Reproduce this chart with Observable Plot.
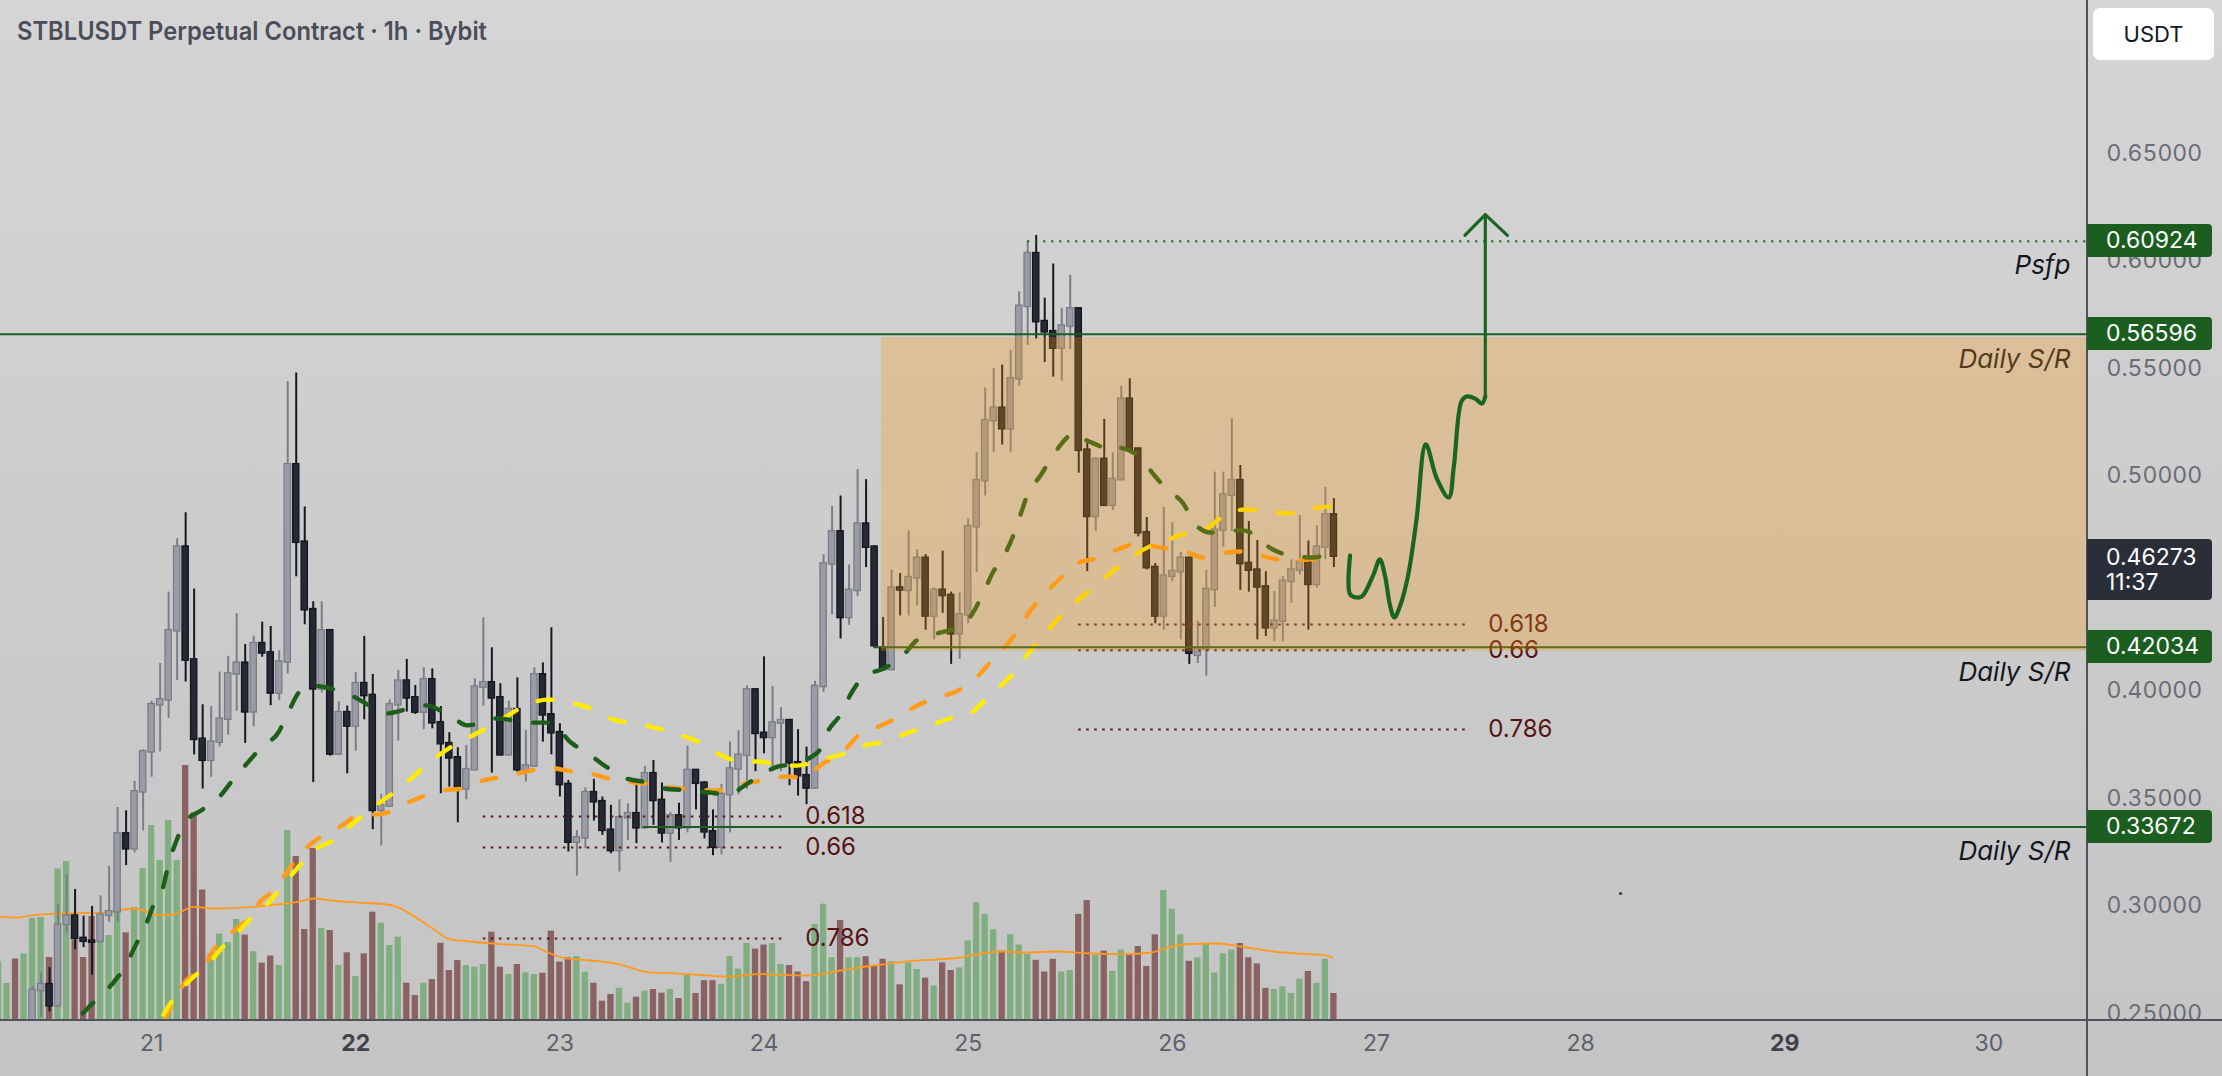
<!DOCTYPE html>
<html><head><meta charset="utf-8">
<script src="https://cdn.jsdelivr.net/npm/d3@7"></script>
<script src="https://cdn.jsdelivr.net/npm/@observablehq/plot@0.6"></script>
<style>
html,body{margin:0;padding:0;background:#c8c8c8;}
#wrap{position:relative;width:2222px;height:1076px;overflow:hidden;background:linear-gradient(180deg,#d5d5d5 0%,#c4c4c4 100%);font-family:Inter,"Noto Sans",sans-serif;}
.layer{position:absolute;left:0;top:0;}
.lbl{position:absolute;left:2087px;width:125px;color:#fff;font-size:23px;box-sizing:border-box;padding-left:19px;border-radius:0 4px 4px 0;display:flex;flex-direction:column;justify-content:center;line-height:25px;}
#title{position:absolute;left:17px;top:19px;font-size:25px;line-height:25px;font-weight:600;color:#4b4e5a;white-space:nowrap;transform-origin:0 0;display:inline-block;}
#usdt{position:absolute;left:2093px;top:8px;width:121px;height:52px;background:#fff;border-radius:7px;color:#131722;font-size:22px;display:flex;align-items:center;justify-content:center;}
#vsep{position:absolute;left:2086px;top:0;width:2px;height:1076px;background:#50535e;}
#hsep{position:absolute;left:0;top:1019px;width:2222px;height:2px;background:#50535e;}
</style>
</head><body>
<div id="wrap">
  <div id="vol" class="layer"></div>
  <div id="price" class="layer"></div>
  <div id="vsep"></div><div id="hsep"></div>
</div>
<script>
// ---------- DATA (hourly candles, first candle = hour 6 of the 20th) ----------
const startHour = 6;
const opens = [
0.236,0.241,0.244,0.238,0.240,0.2607,0.2634,0.2536,0.2914,0.2953,
0.2849,0.2836,0.2836,0.2957,0.2973,0.3335,0.3266,0.3531,0.3717,0.3936,
0.3959,0.4280,0.4669,0.4144,0.3775,0.3678,0.3762,0.3869,0.4079,0.4129,
0.3903,0.4220,0.4177,0.3991,0.4135,0.5052,0.4692,0.4378,0.4010,0.4280,
0.3707,0.3899,0.3837,0.4034,0.3979,0.3445,0.3465,0.3936,0.4046,0.3968,
0.3902,0.4052,0.3852,0.3755,0.3689,0.3545,0.3634,0.4018,0.4038,0.3968,
0.3703,0.3913,0.3634,0.3651,0.4075,0.3889,0.3806,0.3565,0.3297,0.3317,
0.3527,0.3485,0.3352,0.3258,0.3410,0.3429,0.3364,0.3615,0.3491,0.3340,
0.3419,0.3364,0.3630,0.3571,0.3345,0.3274,0.3518,0.3637,0.3701,0.4005,
0.3803,0.3784,0.3851,0.3862,0.3666,0.3606,0.3549,0.4021,0.4591,0.4740,
0.4342,0.4468,0.4776,0.4669,0.4199,0.4100,0.4479,0.4468,0.4527,0.4617,
0.4349,0.4468,0.4444,0.4266,0.4354,0.4764,0.4978,0.5258,0.5315,0.5220,
0.5452,0.5789,0.6034,0.5718,0.5671,0.5595,0.5697,0.5777,0.5120,0.4812,
0.5077,0.4864,0.4983,0.5357,0.5125,0.4736,0.4574,0.4349,0.4534,0.4555,
0.4617,0.4166,0.4195,0.4472,0.4748,0.4911,0.4978,0.4593,0.4562,0.4484,
0.4294,0.4325,0.4510,0.4562,0.4598,0.4496,0.4669,0.4819];
const highs = [
0.243,0.245,0.246,0.244,0.2627,0.2689,0.2713,0.3008,0.3145,0.3077,
0.2953,0.2998,0.3047,0.3184,0.3458,0.3443,0.3580,0.3727,0.3952,0.4128,
0.4460,0.4708,0.4829,0.4474,0.3936,0.3928,0.4088,0.4161,0.4360,0.4216,
0.4255,0.4320,0.4300,0.4187,0.5440,0.5479,0.4856,0.4415,0.4415,0.4285,
0.3950,0.3930,0.4085,0.4254,0.4077,0.3519,0.3959,0.4096,0.4147,0.4026,
0.4108,0.4103,0.3928,0.3806,0.3736,0.3747,0.4057,0.4340,0.4201,0.4034,
0.3953,0.4061,0.3817,0.4108,0.4131,0.4294,0.3848,0.3584,0.3351,0.3550,
0.3589,0.3507,0.3468,0.3494,0.3476,0.3561,0.3649,0.3677,0.3572,0.3435,
0.3478,0.3744,0.3632,0.3578,0.3447,0.3566,0.3763,0.3815,0.4024,0.4008,
0.4159,0.4021,0.3922,0.3867,0.3820,0.3739,0.4045,0.4634,0.4859,0.4907,
0.4586,0.5030,0.4983,0.4676,0.4342,0.4562,0.4546,0.4745,0.4657,0.4634,
0.4479,0.4650,0.4460,0.4456,0.4800,0.5108,0.5410,0.5500,0.5516,0.5583,
0.5856,0.6092,0.6119,0.5827,0.5986,0.5780,0.5934,0.5780,0.5151,0.5085,
0.5263,0.5108,0.5417,0.5452,0.5128,0.4807,0.4593,0.4854,0.4783,0.4645,
0.4622,0.4325,0.4562,0.5018,0.5018,0.5267,0.5049,0.4788,0.4700,0.4555,
0.4463,0.4532,0.4610,0.4816,0.4698,0.4769,0.4947,0.4895];
const lows = [
0.232,0.238,0.236,0.233,0.238,0.2483,0.2507,0.2530,0.2875,0.2797,
0.2806,0.2679,0.2826,0.2924,0.2924,0.3188,0.3247,0.3349,0.3599,0.3717,
0.3873,0.4048,0.4042,0.3703,0.3544,0.3599,0.3740,0.3795,0.3906,0.3756,
0.3834,0.4157,0.3932,0.3955,0.4079,0.4531,0.4308,0.3574,0.3991,0.3697,
0.3700,0.3615,0.3720,0.3866,0.3355,0.3279,0.3460,0.3767,0.3902,0.3891,
0.3820,0.3824,0.3522,0.3553,0.3387,0.3494,0.3630,0.3930,0.3618,0.3700,
0.3698,0.3623,0.3576,0.3645,0.3762,0.3703,0.3507,0.3251,0.3139,0.3266,
0.3395,0.3328,0.3243,0.3158,0.3305,0.3290,0.3360,0.3375,0.3293,0.3203,
0.3305,0.3340,0.3447,0.3312,0.3234,0.3238,0.3340,0.3518,0.3542,0.3625,
0.3708,0.3637,0.3625,0.3559,0.3511,0.3471,0.3545,0.3993,0.4354,0.4242,
0.4306,0.4439,0.4574,0.4205,0.4093,0.4095,0.4349,0.4349,0.4396,0.4283,
0.4238,0.4361,0.4124,0.4147,0.4313,0.4551,0.4907,0.5108,0.5144,0.5108,
0.5417,0.5607,0.5637,0.5528,0.5460,0.5441,0.5588,0.5013,0.4555,0.4741,
0.4860,0.4840,0.4980,0.5120,0.4717,0.4563,0.4313,0.4283,0.4508,0.4238,
0.4124,0.4128,0.4069,0.4389,0.4669,0.4741,0.4468,0.4460,0.4238,0.4254,
0.4230,0.4230,0.4408,0.4539,0.4283,0.4479,0.4610,0.4574];
const closes = [
0.241,0.244,0.238,0.240,0.2607,0.2634,0.2536,0.2910,0.2953,0.2849,
0.2836,0.2832,0.2957,0.2973,0.3335,0.3266,0.3531,0.3717,0.3936,0.3959,
0.4280,0.4669,0.4144,0.3775,0.3678,0.3762,0.3869,0.4079,0.4129,0.3903,
0.4220,0.4177,0.3991,0.4135,0.5052,0.4692,0.4378,0.4010,0.4280,0.3707,
0.3899,0.3837,0.4034,0.3979,0.3445,0.3465,0.3936,0.4046,0.3968,0.3902,
0.4052,0.3852,0.3755,0.3689,0.3545,0.3634,0.4018,0.4038,0.3968,0.3703,
0.3913,0.3634,0.3651,0.4075,0.3889,0.3806,0.3565,0.3297,0.3317,0.3527,
0.3485,0.3352,0.3258,0.3410,0.3429,0.3364,0.3615,0.3491,0.3340,0.3419,
0.3364,0.3630,0.3571,0.3345,0.3274,0.3518,0.3637,0.3701,0.4005,0.3803,
0.3784,0.3851,0.3862,0.3666,0.3606,0.3549,0.4021,0.4591,0.4740,0.4342,
0.4468,0.4776,0.4669,0.4211,0.4100,0.4479,0.4470,0.4527,0.4617,0.4349,
0.4468,0.4444,0.4266,0.4354,0.4764,0.4978,0.5258,0.5315,0.5220,0.5452,
0.5789,0.6034,0.5718,0.5671,0.5595,0.5697,0.5777,0.5120,0.4812,0.5077,
0.4864,0.4983,0.5357,0.5125,0.4736,0.4574,0.4349,0.4534,0.4555,0.4617,
0.4176,0.4195,0.4472,0.4748,0.4911,0.4978,0.4593,0.4562,0.4484,0.4294,
0.4325,0.4510,0.4562,0.4598,0.4496,0.4669,0.4819,0.46273];
const volumes = [
59,37,61.5,66.6,102,103,63,151.6,159,80,
63,104,98,85,113,87.6,113,152,195,160,
200,160,255,207.6,130.5,66.6,86.4,78,101,85.5,
68.7,57.3,64.5,55,190,164,91,172,92,90,
55,67.7,44,66.7,108.3,97.3,75,83.3,37.3,25,
37.3,41,77.3,50,60,55,53.3,56,88.3,53.3,
46,56,47.7,46,47.3,89.3,58.3,62.7,64,48.3,
37.3,19.3,26,32.3,17.3,23.3,29.3,31,27.3,31,
22,44.9,27,39.8,39.8,36.2,63.8,51.5,77,71.4,
75.5,77,56.1,55,48.5,38.8,96,116.3,62.8,100,
62.8,62.8,63.8,54.1,61.2,58.7,35.7,57.6,51,42.3,
34.7,57.6,50,52.6,79.6,117.9,106.1,90.8,69.4,85.7,
75.5,66.3,60.2,48.5,61.2,48.5,50,106.1,119.9,65.3,
69.4,49,70.4,65.3,74,54.1,85.7,130.1,111.2,85.7,
59.2,62.8,76.5,47.5,66.8,70.4,77,62.8,56.6,32.1,
31,33.7,27,41.3,49,37.2,61.2,27];
// volume moving average [hour, volume]
const volMA = [[6.2,103.6],[8.2,103],[10.1,105.3],[14.1,107.4],[18,107.6],[21.9,112],[25,105.3],[26.6,106],[28.9,113.7],[31.3,112],[37.6,115],[41.5,119.2],[43,122],[45,120],[48.9,117.7],[51.7,116],[52.9,113.3],[55.3,101.7],[57.1,91.7],[58.9,81.7],[61.5,79],[64.7,76.7],[68.9,74.3],[70.5,68.3],[72.4,62.7],[75.6,60],[78.8,56.7],[82.3,48.3],[85,47.3],[87.7,46],[91.7,44],[95.6,46.4],[101.1,45],[105,50],[108.9,55],[112.9,59.2],[119.1,63],[122.3,68],[123.8,69],[126.5,68],[130.5,69],[134.4,67],[138.3,66.3],[141.5,68],[143.5,73],[146.2,76.5],[149.3,77],[152,74],[155.9,69],[158.7,67],[161.8,65.3],[162.8,63]];
// price moving averages [hour, price]
const maGreen = [[15.9,0.250],[16.8,0.2537],[19.5,0.2644],[20.9,0.2719],[22.1,0.2816],[23.3,0.2909],[24.2,0.3002],[25.4,0.3095],[26.0,0.3198],[26.8,0.3291],[27.9,0.3388],[30.0,0.3449],[32.0,0.3509],[33.5,0.3584],[35.3,0.3667],[37.0,0.3742],[38.9,0.3807],[40.0,0.3895],[41.3,0.3993],[42.7,0.4026],[45.0,0.4012],[47.0,0.3988],[50.6,0.3909],[51.3,0.3895],[56.2,0.3933],[59.5,0.3872],[61.1,0.3840],[64.6,0.3872],[68.5,0.3853],[70.9,0.3853],[73.3,0.3760],[75.3,0.3709],[77.4,0.3649],[79.5,0.3598],[82.7,0.3570],[84.2,0.3547],[87.4,0.3537],[89.5,0.3528],[91.9,0.3519],[93.7,0.3560],[95.9,0.3616],[97.7,0.3649],[99.1,0.3658],[101.6,0.3695],[102.5,0.3723],[103.5,0.3812],[105.0,0.3891],[106.3,0.3993],[107.7,0.4067],[110.1,0.4105],[112.2,0.4160],[114.1,0.4240],[116.3,0.4267],[119.5,0.4309],[120.5,0.4360],[121.8,0.4458],[122.9,0.4551],[124.3,0.4635],[125.3,0.4723],[126.2,0.4826],[127.0,0.4914],[128.5,0.5002],[129.9,0.5091],[131.5,0.5174],[132.4,0.5202],[133.3,0.5179],[135.8,0.5133],[136.5,0.5119],[137.3,0.5133],[140.3,0.5086],[141.7,0.5012],[143.5,0.4933],[145.3,0.4872],[146.6,0.4779],[148.5,0.4737],[152.3,0.4747],[153.4,0.4733],[155.6,0.4663],[157.9,0.4630],[160.4,0.4621],[162.5,0.4640]];
const maYellow = [[25.4,0.2495],[26.6,0.2570],[28.6,0.2658],[30.6,0.2728],[32.3,0.2807],[34.1,0.2877],[36.0,0.2956],[37.7,0.3012],[39.5,0.3100],[41.2,0.3179],[43.0,0.3258],[45.3,0.3305],[47.1,0.3365],[49.1,0.3430],[51.3,0.3495],[53.3,0.3551],[55.3,0.3621],[57.1,0.3681],[59.5,0.3747],[61.5,0.3788],[64.4,0.3849],[68.5,0.3942],[70.5,0.3960],[73.6,0.3942],[76.0,0.3914],[78.3,0.3867],[80.7,0.3849],[83.5,0.3826],[85.0,0.3807],[88.2,0.3765],[90.3,0.3714],[93.5,0.3672],[95.4,0.3672],[98.3,0.3653],[99.9,0.3653],[103.1,0.3686],[105.5,0.3709],[107.9,0.3747],[110.3,0.3765],[113.0,0.3807],[115.3,0.3835],[117.8,0.3872],[120.2,0.3895],[122.2,0.3965],[124.0,0.4030],[125.9,0.4109],[127.3,0.4188],[129.0,0.4263],[130.6,0.4337],[132.7,0.4416],[134.6,0.4477],[136.7,0.4547],[138.6,0.4607],[141.6,0.4677],[143.2,0.4700],[145.6,0.4733],[148.0,0.4756],[150.5,0.4826],[152.6,0.4844],[155.4,0.4835],[157.7,0.4826],[160.4,0.4849],[162.7,0.4858]];
const maOrange = [[25.5,0.2467],[28.0,0.2649],[30.2,0.2719],[31.3,0.2798],[33.3,0.2872],[35.3,0.2942],[36.8,0.3021],[38.8,0.3091],[40.1,0.3170],[41.9,0.3258],[43.9,0.3323],[46.0,0.3365],[48.7,0.3426],[50.8,0.3426],[53.3,0.3467],[55.6,0.3505],[58.1,0.3537],[60.7,0.3547],[63.0,0.3584],[65.6,0.3602],[68.2,0.3626],[70.5,0.3644],[73.3,0.3626],[75.6,0.3616],[78.2,0.3588],[80.7,0.3574],[83.2,0.3565],[85.0,0.3551],[88.2,0.3542],[90.3,0.3537],[93.8,0.3570],[95.9,0.3584],[98.7,0.3602],[100.4,0.3598],[103.1,0.3667],[105.2,0.3714],[107.1,0.3793],[109.5,0.3835],[111.9,0.3881],[113.8,0.3928],[116.4,0.3970],[118.6,0.3998],[121.0,0.4063],[122.6,0.4133],[124.5,0.4212],[126.0,0.4291],[127.5,0.4384],[129.0,0.4449],[130.9,0.4528],[132.8,0.4593],[135.5,0.4621],[137.6,0.4658],[140.0,0.4686],[142.6,0.4667],[145.3,0.4653],[147.6,0.4621],[150.4,0.4644],[152.6,0.4649],[155.2,0.4621],[157.7,0.4607],[160.4,0.4612],[162.7,0.4621]];
// drawings
const levels = [0.60924, 0.56596, 0.42034, 0.33672];   // labelled price lines
const levelStart = [127.0, 6.232, 108.9, 81.8];        // hour where each line starts
const zone = {t1: 109.8, lo: 0.4184, hi: 0.5644};       // Daily S/R zone
const fibNames = ["0.618", "0.66", "0.786"];
const fibLeft = {t1: 63.0, t2: 98.5, values: [0.3416, 0.3272, 0.2849]};
const fibRight = {t1: 133.0, t2: 178.8, values: [0.4309, 0.4190, 0.3821]};
const projection = [[164.9,0.4630],[164.9,0.4449],[165.6,0.4435],[166.3,0.4440],[167.6,0.4537],[168.4,0.4612],[169.0,0.4537],[169.6,0.4398],[170.1,0.4342],[170.8,0.4398],[171.7,0.4533],[172.7,0.4793],[173.8,0.5147],[175.1,0.4988],[176.5,0.4900],[177.1,0.5044],[178.0,0.5347],[178.6,0.5370],[179.6,0.5360],[180.4,0.5337],[180.8,0.5370]];
const arrowShaft = [[180.8,0.5370],[180.8,0.6216]];
const arrowHead = [[178.4,0.6119],[180.8,0.6216],[183.4,0.6119]];
const strayDot = [[196.7,0.3058]];
const dayHours = [24,48,72,96,120,144,168,192,216,240];
const dayLabels = ["21","22","23","24","25","26","27","28","29","30"];
const dayBold = ["22","29"];
const yTicks = [0.25,0.30,0.35,0.40,0.50,0.55,0.60,0.65]; // 0.45000 sits under the last-price label
const lastPrice = 0.46273, countdown = "11:37";

// ---------- CHART ----------
const W = 2222, H = 1076, MR = 135, MB = 56;
const xDomain = [6.232, 251.6];
const yDomain = [0.24674, 0.72116];
const candles = opens.map((o, i) => ({t: startHour + i, o, h: highs[i], l: lows[i], c: closes[i], v: volumes[i], up: closes[i] >= o}));
const days = dayHours.map((t, i) => ({t, label: dayLabels[i]}));
const base = {width: W, height: H, marginLeft: 0, marginRight: MR, marginTop: 0, marginBottom: MB,
  style: {background: "transparent", overflow: "visible", fontFamily: "Inter, 'Noto Sans', sans-serif"}};

const volChart = Plot.plot({...base,
  x: {domain: xDomain, axis: null},
  y: {domain: [0, 1020], axis: null},
  marks: [
    Plot.rect(candles, {x1: d => d.t - 0.37, x2: d => d.t + 0.37, y1: 0, y2: "v", fill: d => d.up ? "#80ae80" : "#8b6262", clip: "frame"}),
    Plot.line(volMA, {x: d => d[0], y: d => d[1], stroke: "#ff9a1a", strokeWidth: 1.8, curve: "monotone-x", clip: "frame"})
  ]
});
document.getElementById("vol").append(volChart);

const maOpts = {x: d => d[0], y: d => d[1], strokeWidth: 4.4, strokeDasharray: "15,23", strokeLinecap: "round", curve: "monotone-x", clip: "frame"};
const fibRows = (f) => f.values.map((v, i) => ({v, name: fibNames[i], t1: f.t1, t2: f.t2}));
const fibs = [...fibRows(fibLeft), ...fibRows(fibRight)];
const lines = levels.map((v, i) => ({v, t1: levelStart[i]}));
const srLabels = [{v: levels[0], text: "Psfp"}, {v: levels[1], text: "Daily S/R"}, {v: levels[2], text: "Daily S/R"}, {v: levels[3], text: "Daily S/R"}];

const chart = Plot.plot({...base,
  x: {domain: xDomain, axis: null},
  y: {domain: yDomain, axis: null},
  marks: [
    Plot.axisY(yTicks, {anchor: "right", tickSize: 0, tickPadding: 19, tickFormat: d3.format(".5f"), fontSize: 23, fill: "#6a6d78", label: null}),
    Plot.text(days.filter(d => !dayBold.includes(d.label)), {x: "t", text: "label", frameAnchor: "bottom", dy: 30, fontSize: 23, fill: "#5d606b"}),
    Plot.text(days.filter(d => dayBold.includes(d.label)), {x: "t", text: "label", frameAnchor: "bottom", dy: 30, fontSize: 23, fontWeight: 700, fill: "#3f424c"}),
    // candles
    Plot.ruleX(candles, {x: "t", y1: "l", y2: "h", stroke: d => d.up ? "#7b7e88" : "#151821", strokeWidth: 2, clip: "frame"}),
    Plot.rect(candles, {x1: d => d.t - 0.37, x2: d => d.t + 0.37, y1: "o", y2: "c", insetTop: -0.7, insetBottom: -0.7,
      fill: d => d.up ? "#9a9ca5" : "#252933", stroke: d => d.up ? "#7a7d87" : "#131620", strokeWidth: 1.3, clip: "frame"}),
    // moving averages
    Plot.line(maOrange, {...maOpts, stroke: "#ff9d1a"}),
    Plot.line(maYellow, {...maOpts, stroke: "#ffeb00"}),
    Plot.line(maGreen, {...maOpts, stroke: "#1d5e1d"}),
    // horizontal levels
    Plot.ruleY(lines.slice(1), {y: "v", x1: "t1", x2: xDomain[1], stroke: "#1b5e20", strokeWidth: 2}),
    Plot.ruleY(lines.slice(0, 1), {y: "v", x1: "t1", x2: xDomain[1], stroke: "#1b5e20", strokeWidth: 2, strokeDasharray: "2,6"}),
    // fib levels
    Plot.ruleY(fibs, {y: "v", x1: "t1", x2: "t2", stroke: "#5c1616", strokeWidth: 2, strokeDasharray: "2.5,5.5"}),
    Plot.text(fibs, {x: "t2", y: "v", text: "name", textAnchor: "start", dx: 20, fontSize: 24, fill: "#561414"}),
    Plot.text(srLabels, {y: "v", text: "text", frameAnchor: "right", textAnchor: "end", dx: -17, dy: 25, fontSize: 26, fontStyle: "italic", fill: "#131722"}),
    // zone (drawn over the candles, semi-transparent)
    Plot.rect([zone], {x1: "t1", x2: xDomain[1], y1: "lo", y2: "hi", fill: "#f7960f", fillOpacity: 0.28}),
    // projection drawing
    Plot.line(projection, {x: d => d[0], y: d => d[1], stroke: "#1b6523", strokeWidth: 4.2, strokeLinecap: "round", strokeLinejoin: "round", curve: "catmull-rom"}),
    Plot.line(arrowShaft, {x: d => d[0], y: d => d[1], stroke: "#1b6523", strokeWidth: 3.2}),
    Plot.line(arrowHead, {x: d => d[0], y: d => d[1], stroke: "#1b6523", strokeWidth: 3.2, strokeLinecap: "round", strokeLinejoin: "miter"}),
    Plot.dot(strayDot, {x: d => d[0], y: d => d[1], r: 1.6, fill: "#30453a"})
  ]
});
document.getElementById("price").append(chart);

// ---------- price-scale labels placed through the chart's y scale ----------
const wrap = document.getElementById("wrap");
const ys = chart.scale("y");
function label(v, html, bg, h) {
  const d = document.createElement("div");
  d.className = "lbl";
  d.style.background = bg;
  d.style.top = (ys.apply(v) - 16.5) + "px";
  d.style.height = h + "px";
  d.innerHTML = html;
  wrap.append(d);
}
levels.forEach(v => label(v, d3.format(".5f")(v), "#1b5e20", 33));
label(lastPrice, `<span>${d3.format(".5f")(lastPrice)}</span><span>${countdown}</span>`, "#2a2e39", 61);

const title = document.createElement("div");
title.id = "title";
title.textContent = "STBLUSDT Perpetual Contract · 1h · Bybit";
wrap.append(title);
const tw = title.getBoundingClientRect().width;
title.style.transform = `scaleX(${470 / tw})`;

const usdt = document.createElement("div");
usdt.id = "usdt";
usdt.textContent = "USDT";
wrap.append(usdt);
</script>
</body></html>
